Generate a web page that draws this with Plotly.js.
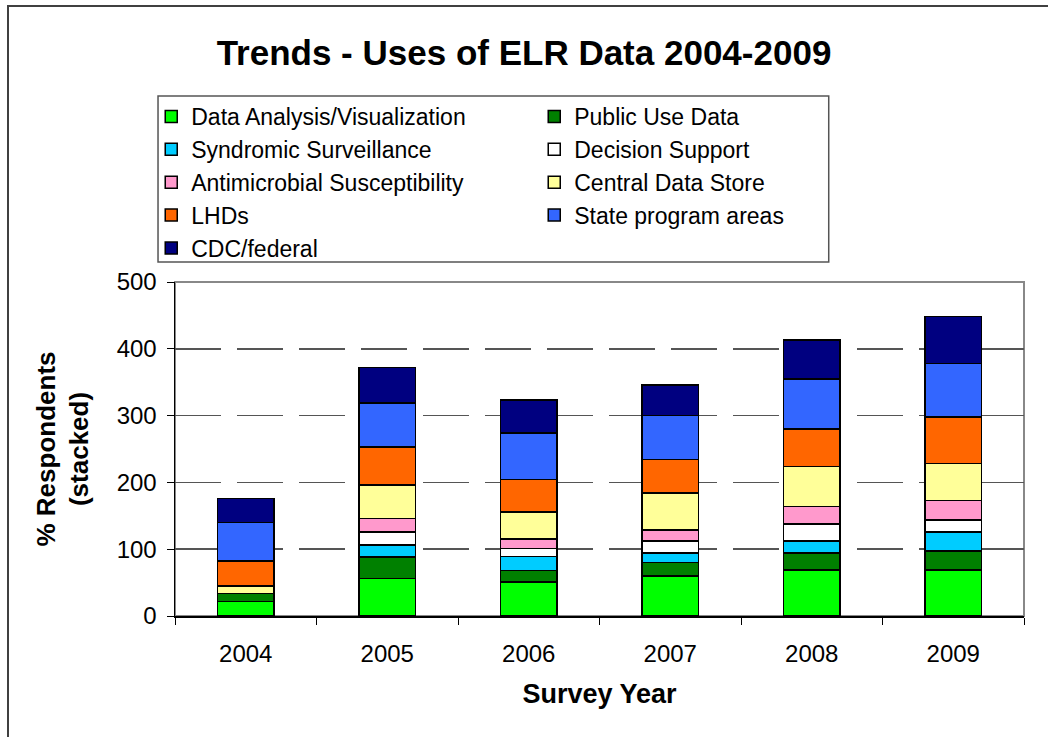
<!DOCTYPE html>
<html>
<head>
<meta charset="utf-8">
<script src="https://cdn.plot.ly/plotly-3.0.1.min.js"></script>
<style>
  html, body { margin: 0; padding: 0; background: #fff; }
  #wrap { position: relative; width: 1048px; height: 737px; overflow: hidden; }
  #chart { width: 1048px; height: 737px; }
  #frame { position: absolute; left: 7px; top: 5px; width: 1100px; height: 800px;
           border-left: 2px solid #404040; border-top: 2px solid #404040; pointer-events: none; }
</style>
</head>
<body>
<div id="wrap"><div id="chart"></div><div id="frame"></div></div>
<script>
const years = ['2004', '2005', '2006', '2007', '2008', '2009'];
const dataAnalysis  = [22, 56, 51, 60, 69, 69];
const publicUse     = [12, 32, 17, 20, 25, 28];
const syndromic     = [0, 18, 21, 14, 18, 29];
const decision      = [0, 20, 12, 18, 26, 18];
const antimicrobial = [0, 20, 14, 17, 26, 29];
const centralStore  = [11, 50, 41, 55, 60, 55];
const lhds          = [37, 57, 48, 50, 56, 70];
const statePrograms = [58, 66, 70, 66, 75, 80];
const cdcFederal    = [36, 53, 49, 46, 58, 70];

const seriesNames = ['Data Analysis/Visualization', 'Public Use Data', 'Syndromic Surveillance',
  'Decision Support', 'Antimicrobial Susceptibility', 'Central Data Store', 'LHDs',
  'State program areas', 'CDC/federal'];
const seriesValues = [dataAnalysis, publicUse, syndromic, decision, antimicrobial,
  centralStore, lhds, statePrograms, cdcFederal];
const seriesColors = ['#00FF00', '#008000', '#00CCFF', '#FFFFFF', '#FF99CC', '#FFFF99',
  '#FF6600', '#3366FF', '#000080'];

const traces = seriesNames.map((name, i) => ({
  type: 'bar',
  name: name,
  x: years,
  y: seriesValues[i],
  marker: { color: seriesColors[i], line: { color: '#000000', width: 1.5 } },
  hoverinfo: 'x+y+name'
}));

const font = 'Arial, "Liberation Sans", sans-serif';

const layout = {
  width: 1048,
  height: 737,
  paper_bgcolor: '#ffffff',
  plot_bgcolor: '#ffffff',
  barmode: 'stack',
  bargap: 0.6,
  margin: { l: 175, r: 24, t: 282, b: 121, pad: 0 },
  font: { family: font, color: '#000000', size: 24 },
  title: {
    text: '<b>Trends - Uses of ELR Data 2004-2009</b>',
    font: { family: font, size: 35, color: '#000000' },
    x: 0.5, xanchor: 'center', xref: 'container',
    y: 0.928, yanchor: 'middle'
  },
  showlegend: true,
  legend: {
    orientation: 'h',
    traceorder: 'normal',
    x: -0.028, xanchor: 'left',
    y: 1.56, yanchor: 'top',
    borderwidth: 0,
    bgcolor: 'rgba(0,0,0,0)',
    font: { family: font, size: 23, color: '#000000' },
    entrywidth: 338,
    entrywidthmode: 'pixels',
    itemwidth: 30
  },
  xaxis: {
    type: 'category',
    tickson: 'boundaries',
    ticks: 'outside',
    ticklen: 7,
    tickcolor: '#000000',
    showline: true,
    linecolor: '#000000',
    linewidth: 1.5,
    showgrid: false,
    tickfont: { family: font, size: 24, color: '#000000' },
    ticklabelstandoff: 16,
    title: {
      text: '<b>Survey Year</b>',
      font: { family: font, size: 27, color: '#000000' },
      standoff: 18
    },
    automargin: false
  },
  yaxis: {
    range: [0, 500],
    tickvals: [0, 100, 200, 300, 400, 500],
    ticks: 'outside',
    ticklen: 7,
    tickcolor: '#000000',
    showline: true,
    linecolor: '#000000',
    linewidth: 1.5,
    showgrid: true,
    gridcolor: '#555555',
    gridwidth: 1.5,
    griddash: '46px,16px',
    zeroline: false,
    tickfont: { family: font, size: 24, color: '#000000' },
    ticklabelstandoff: 5,
    title: {
      text: '<b>% Respondents<br>(stacked)</b>',
      font: { family: font, size: 26, color: '#000000' },
      standoff: 20
    },
    automargin: false
  },
  shapes: [
    {
      type: 'rect', xref: 'paper', yref: 'paper', x0: 0, x1: 1, y0: 0, y1: 1,
      line: { color: '#888888', width: 2 }, fillcolor: 'rgba(0,0,0,0)', layer: 'below'
    },
    {
      type: 'rect', xref: 'paper', yref: 'paper', x0: -0.020, x1: 0.770, y0: 1.06, y1: 1.557,
      line: { color: '#555555', width: 1.5 }, fillcolor: 'rgba(0,0,0,0)', layer: 'above'
    }
  ]
};

Plotly.newPlot('chart', traces, layout, { displayModeBar: false, staticPlot: true });
</script>
</body>
</html>
